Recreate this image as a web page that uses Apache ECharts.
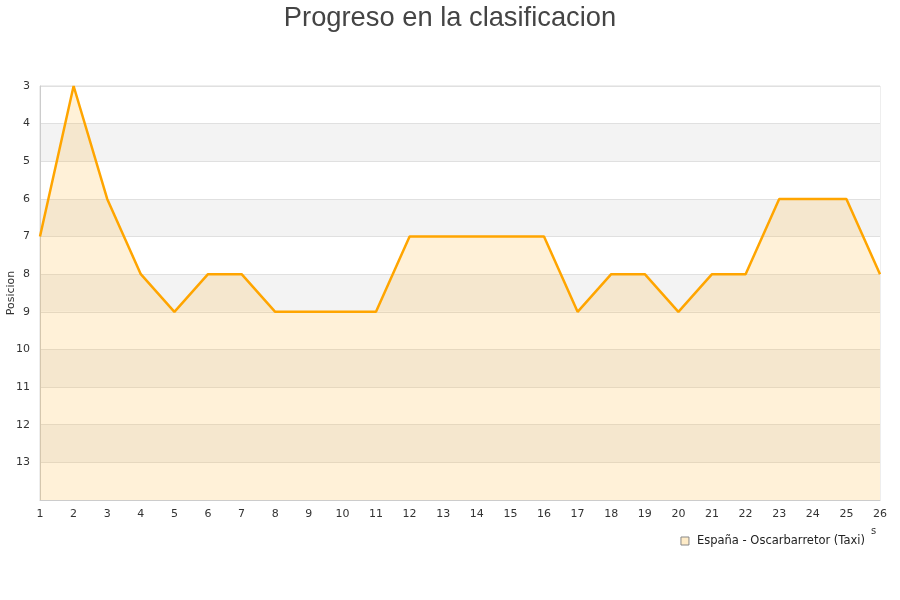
<!DOCTYPE html>
<html>
<head>
<meta charset="utf-8">
<script src="https://cdn.jsdelivr.net/npm/echarts@6/dist/echarts.min.js"></script>
<style>html,body{margin:0;padding:0;background:#fff}#c{width:900px;height:600px}</style>
</head>
<body>
<div id="c"></div>
<script>
const jornadas = ['1','2','3','4','5','6','7','8','9','10','11','12','13','14','15','16','17','18','19','20','21','22','23','24','25','26'];
const posiciones = [7,3,6,8,9,8,8,9,9,9,9,7,7,7,7,7,9,8,8,9,8,8,6,6,6,8];
const serieNombre = 'España - Oscarbarretor (Taxi)';
const titulo = 'Progreso en la clasificacion';

const chart = echarts.init(document.getElementById('c'));
chart.setOption({
  animation: false,
  backgroundColor: '#fff',
  title: {
    text: titulo, left: 'center', top: 0,
    textStyle: {fontFamily: 'Liberation Sans', fontSize: 27.3, fontWeight: 'normal', color: '#444'}
  },
  grid: {left: 40, right: 20, top: 86, bottom: 100, show: true, borderColor: '#ddd', borderWidth: 1,
    containLabel: false, outerBoundsMode: 'none'},
  legend: {
    right: 30, top: 530,
    icon: 'rect', itemWidth: 8, itemHeight: 8, itemGap: 5,
    itemStyle: {color: '#ffecc8', borderColor: '#888', borderWidth: 1},
    textStyle: {fontFamily: 'DejaVu Sans', fontSize: 11.5, color: '#222', padding: [0, 0, 0, 3]},
    data: [serieNombre]
  },
  xAxis: {
    type: 'category', data: jornadas, boundaryGap: false,
    axisLine: {lineStyle: {color: '#ccc'}},
    axisTick: {show: false},
    axisLabel: {fontFamily: 'DejaVu Sans', fontSize: 11, color: '#333', margin: 9}
  },
  yAxis: {
    type: 'value', inverse: true, min: 3, max: 14, interval: 1,
    name: 'Posicion', nameLocation: 'middle', nameGap: 23, nameMoveOverlap: false,
    nameTextStyle: {fontFamily: 'DejaVu Sans', fontSize: 11, color: '#333'},
    axisLine: {show: true, lineStyle: {color: '#ccc'}},
    axisTick: {show: false},
    axisLabel: {fontFamily: 'DejaVu Sans', fontSize: 11, color: '#333', margin: 10,
      formatter: v => v >= 14 ? '' : v},
    splitLine: {show: true, lineStyle: {color: '#e0e0e0'}},
    splitArea: {show: true, areaStyle: {color: ['#ffffff', '#f3f3f3']}}
  },
  graphic: [
    {type: 'text', left: 871, top: 526, style: {text: 's', fontFamily: 'DejaVu Sans', fontSize: 10, fill: '#333'}}
  ],
  series: [{
    name: serieNombre, type: 'line', data: posiciones,
    symbol: 'none',
    lineStyle: {color: '#ffa500', width: 2.5},
    itemStyle: {color: '#ffecc8'},
    areaStyle: {color: 'rgba(255,180,50,0.27)', origin: 'end'}
  }]
});
</script>
</body>
</html>
